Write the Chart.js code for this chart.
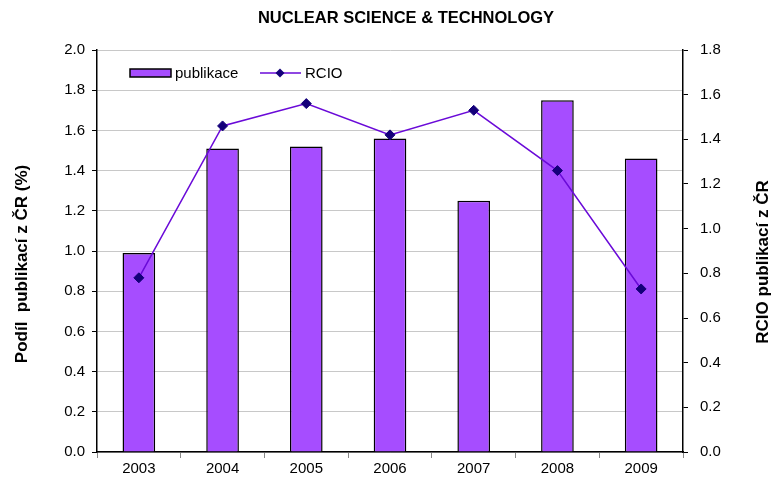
<!DOCTYPE html>
<html>
<head>
<meta charset="utf-8">
<script src="https://cdn.jsdelivr.net/npm/chart.js@4"></script>
<style>
  html, body { margin: 0; padding: 0; background: #fff; }
  #wrap { width: 773px; height: 481px; }
</style>
</head>
<body>
<div id="wrap"><canvas id="chart" width="773" height="481"></canvas></div>
<script>
// Chart data
const years = ["2003", "2004", "2005", "2006", "2007", "2008", "2009"];
const publikace = [0.99, 1.51, 1.52, 1.56, 1.25, 1.75, 1.46];
const rcio = [0.78, 1.46, 1.56, 1.42, 1.53, 1.26, 0.73];

const chartTitle = "NUCLEAR SCIENCE & TECHNOLOGY";
const leftTitle = "Podíl  publikací z ČR (%)";
const rightTitle = "RCIO publikací z ČR";

const barColor = "#A64DFF";
const lineColor = "#6A0AD8";
const markColor = "#14007A";
const font = "Liberation Sans, Arial, sans-serif";

// Titles and legend drawn by hand to match the original placement
const decorations = {
  id: "decorations",
  afterDraw(chart) {
    const ctx = chart.ctx;
    ctx.save();
    ctx.fillStyle = "#000";
    ctx.font = "bold 16.5px " + font;
    ctx.textAlign = "center";
    ctx.textBaseline = "middle";
    ctx.fillText(chartTitle, 406, 18);

    ctx.font = "bold 17px " + font;
    ctx.save();
    ctx.translate(22, 264);
    ctx.rotate(-Math.PI / 2);
    ctx.fillText(leftTitle, 0, 0);
    ctx.restore();

    ctx.save();
    ctx.translate(763, 262);
    ctx.rotate(-Math.PI / 2);
    ctx.fillText(rightTitle, 0, 0);
    ctx.restore();

    // legend
    ctx.font = "15px " + font;
    ctx.textAlign = "left";
    ctx.fillStyle = barColor;
    ctx.fillRect(130, 69, 41, 8);
    ctx.strokeStyle = "#000";
    ctx.lineWidth = 1.5;
    ctx.strokeRect(130, 69, 41, 8);
    ctx.fillStyle = "#000";
    ctx.fillText("publikace", 175, 74);

    ctx.strokeStyle = lineColor;
    ctx.lineWidth = 1.5;
    ctx.beginPath();
    ctx.moveTo(260, 73);
    ctx.lineTo(301, 73);
    ctx.stroke();
    ctx.fillStyle = markColor;
    ctx.beginPath();
    ctx.moveTo(280, 68.5);
    ctx.lineTo(284.5, 73);
    ctx.lineTo(280, 77.5);
    ctx.lineTo(275.5, 73);
    ctx.closePath();
    ctx.fill();
    ctx.fillStyle = "#000";
    ctx.fillText("RCIO", 305, 74);
    ctx.restore();
  }
};

const ctx = document.getElementById("chart").getContext("2d");
new Chart(ctx, {
  type: "bar",
  data: {
    labels: years,
    datasets: [
      {
        type: "line",
        label: "RCIO",
        data: rcio,
        yAxisID: "y1",
        borderColor: lineColor,
        borderWidth: 1.5,
        pointStyle: "rectRot",
        pointRadius: 5,
        pointBackgroundColor: markColor,
        pointBorderColor: markColor,
        pointBorderWidth: 1,
        tension: 0,
        order: 1,
      },
      {
        label: "publikace",
        data: publikace,
        yAxisID: "y",
        backgroundColor: barColor,
        borderColor: "#000",
        borderWidth: 1.5,
        barPercentage: 0.78,
        categoryPercentage: 0.5,
        order: 2,
      },
    ],
  },
  options: {
    responsive: false,
    animation: false,
    layout: { padding: { top: 50, left: 0, right: 0, bottom: 0 } },
    plugins: {
      legend: { display: false },
      title: { display: false },
      tooltip: { enabled: false },
    },
    scales: {
      x: {
        offset: true,
        afterFit: (s) => { s.height = 29; },
        grid: {
          offset: true,
          drawOnChartArea: false,
          tickLength: 6,
          tickColor: "#888",
        },
        border: { color: "#000", width: 1.5 },
        ticks: { color: "#000", font: { family: font, size: 15 }, padding: 2 },
      },
      y: {
        position: "left",
        min: 0,
        max: 2,
        afterFit: (s) => { s.width = 97; },
        afterBuildTicks: (s) => {
          s.ticks = [];
          for (let i = 0; i <= 10; i++) s.ticks.push({ value: i * 0.2 });
        },
        grid: {
          color: "#c8c8c8",
          borderDash: [1, 2],
          tickLength: 5,
          tickColor: "#000",
          tickBorderDash: [],
        },
        border: { color: "#000", width: 1.5 },
        ticks: {
          color: "#000",
          font: { family: font, size: 15 },
          padding: 7,
          callback: (v) => Number(v).toFixed(1),
        },
      },
      y1: {
        position: "right",
        min: 0,
        max: 1.8,
        afterFit: (s) => { s.width = 90; },
        afterBuildTicks: (s) => {
          s.ticks = [];
          for (let i = 0; i <= 9; i++) s.ticks.push({ value: i * 0.2 });
        },
        grid: {
          drawOnChartArea: false,
          tickLength: 5,
          tickColor: "#000",
        },
        border: { color: "#000", width: 1.5 },
        ticks: {
          color: "#000",
          font: { family: font, size: 15 },
          padding: 12,
          callback: (v) => Number(v).toFixed(1),
        },
      },
    },
  },
  plugins: [decorations],
});
</script>
</body>
</html>
